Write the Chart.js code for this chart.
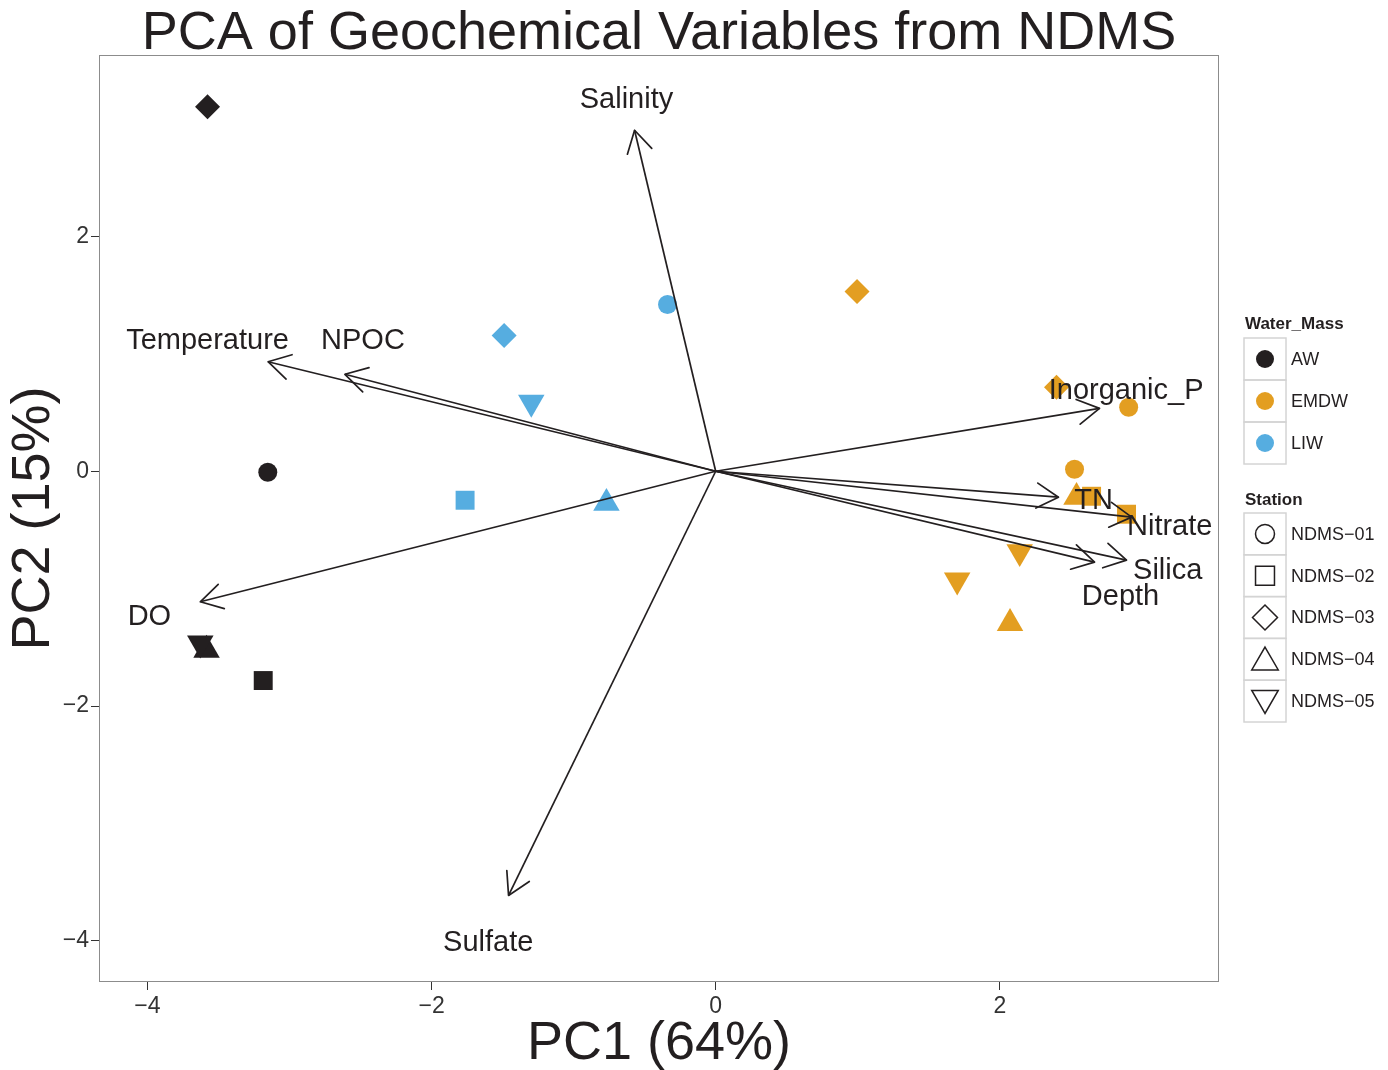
<!DOCTYPE html>
<html>
<head>
<meta charset="utf-8">
<script src="https://cdn.jsdelivr.net/npm/chart.js@4.4.1/dist/chart.umd.min.js"></script>
<style>
html,body{margin:0;padding:0;background:#fff;}
canvas{display:block;}
</style>
</head>
<body>
<canvas id="c" width="1388" height="1070"></canvas>
<script>
// ---------- data ----------
const waterMasses = ['AW', 'EMDW', 'LIW'];
const waterColors = ['#231f20', '#e39e21', '#56ade0'];
const stations = ['NDMS\u221201', 'NDMS\u221202', 'NDMS\u221203', 'NDMS\u221204', 'NDMS\u221205'];

// sample scores (PC1, PC2) and station index per water mass
const awPC1 = [-3.153, -3.185, -3.577, -3.584, -3.628];
const awPC2 = [-0.009, -1.783, 3.106, -1.523, -1.464];
const awStation = [0, 1, 2, 3, 4];

const emdwPC1 = [2.907, 2.526, 2.892, 2.646, 0.995, 2.399, 2.540, 2.072, 2.140, 1.700];
const emdwPC2 = [0.545, 0.017, -0.366, -0.213, 1.532, 0.715, -0.221, -1.295, -0.686, -0.928];
const emdwStation = [0, 0, 1, 1, 2, 2, 3, 3, 4, 4];

const liwPC1 = [-0.339, -1.764, -1.489, -0.769, -1.298];
const liwPC2 = [1.421, -0.247, 1.157, -0.272, 0.587];
const liwStation = [0, 1, 2, 3, 4];

// variable loadings (arrow tips) and label positions
const varNames = ['Salinity', 'Temperature', 'NPOC', 'DO', 'Sulfate', 'Inorganic_P', 'TN', 'Nitrate', 'Silica', 'Depth'];
const loadPC1 = [-0.571, -3.151, -2.610, -3.628, -1.458, 2.702, 2.413, 2.928, 2.892, 2.667];
const loadPC2 = [2.905, 0.933, 0.826, -1.112, -3.614, 0.536, -0.221, -0.391, -0.757, -0.774];
const labelPC1 = [-0.628, -3.577, -2.483, -3.986, -1.601, 2.889, 2.660, 3.196, 3.182, 2.850];
const labelPC2 = [3.183, 1.123, 1.123, -1.226, -4.000, 0.698, -0.238, -0.460, -0.834, -1.055];

const xTicks = [-4, -2, 0, 2];
const yTicks = [-4, -2, 0, 2];

const titleText = 'PCA of Geochemical Variables from NDMS';
const xTitle = 'PC1 (64%)';
const yTitle = 'PC2 (15%)';
const legendTitle1 = 'Water_Mass';
const legendTitle2 = 'Station';

// ---------- styles ----------
const FONT = '"Liberation Sans", Arial, Helvetica, sans-serif';
const INK = '#231f20';
const shapeStyles = [
  {style: 'circle', r: 9.5, rot: 0},
  {style: 'rect', r: 13.4, rot: 0},
  {style: 'rectRot', r: 12.5, rot: 0},
  {style: 'triangle', r: 15.3, rot: 0},
  {style: 'triangle', r: 15.3, rot: 180}
];

const groupPC1 = [awPC1, emdwPC1, liwPC1];
const groupPC2 = [awPC2, emdwPC2, liwPC2];
const groupStation = [awStation, emdwStation, liwStation];

const pointSets = waterMasses.map((wm, k) => ({
  type: 'scatter',
  label: wm,
  data: groupPC1[k].map((x, i) => ({x: x, y: groupPC2[k][i]})),
  pointStyle: groupStation[k].map(s => shapeStyles[s].style),
  pointRadius: groupStation[k].map(s => shapeStyles[s].r),
  pointRotation: groupStation[k].map(s => shapeStyles[s].rot),
  pointBackgroundColor: waterColors[k],
  pointBorderColor: waterColors[k],
  pointBorderWidth: 0,
  showLine: false,
  order: 2
}));

const arrowSets = varNames.map((n, i) => ({
  type: 'line',
  label: n,
  data: [{x: 0, y: 0}, {x: loadPC1[i], y: loadPC2[i]}],
  borderColor: INK,
  borderWidth: 1.7,
  pointRadius: 0,
  fill: false,
  tension: 0,
  order: 1
}));

function fmtTick(v) {
  return v < 0 ? '\u2212' + Math.abs(v) : String(v);
}

function drawShape(ctx, style, r, rot, x, y) {
  if (Chart.helpers && Chart.helpers.drawPoint) {
    Chart.helpers.drawPoint(ctx, {pointStyle: style, radius: r, rotation: rot, borderWidth: 1}, x, y);
    return;
  }
  let rad = rot * Math.PI / 180;
  ctx.beginPath();
  if (style === 'circle') ctx.arc(x, y, r, 0, Math.PI * 2);
  else if (style === 'rect') { const s = r * Math.SQRT1_2; ctx.rect(x - s, y - s, 2 * s, 2 * s); }
  else if (style === 'rectRot') { ctx.moveTo(x - r, y); ctx.lineTo(x, y - r); ctx.lineTo(x + r, y); ctx.lineTo(x, y + r); ctx.closePath(); }
  else {
    ctx.moveTo(x + Math.sin(rad) * r, y - Math.cos(rad) * r);
    rad += 2 * Math.PI / 3; ctx.lineTo(x + Math.sin(rad) * r, y - Math.cos(rad) * r);
    rad += 2 * Math.PI / 3; ctx.lineTo(x + Math.sin(rad) * r, y - Math.cos(rad) * r);
    ctx.closePath();
  }
  ctx.fill();
  ctx.stroke();
}

const decor = {
  id: 'decor',
  beforeDraw(chart) {
    const ctx = chart.ctx;
    ctx.save();
    ctx.fillStyle = '#fff';
    ctx.fillRect(0, 0, chart.width, chart.height);
    ctx.restore();
  },
  afterDatasetsDraw(chart) {
    const ctx = chart.ctx;
    const xs = chart.scales.x, ys = chart.scales.y;
    const x0 = xs.getPixelForValue(0), y0 = ys.getPixelForValue(0);
    ctx.save();
    ctx.strokeStyle = INK;
    ctx.lineWidth = 1.7;
    ctx.lineCap = 'round';
    ctx.lineJoin = 'round';
    const L = 25, A = Math.PI / 6;
    for (let i = 0; i < varNames.length; i++) {
      const tx = xs.getPixelForValue(loadPC1[i]);
      const ty = ys.getPixelForValue(loadPC2[i]);
      const ang = Math.atan2(ty - y0, tx - x0);
      ctx.beginPath();
      ctx.moveTo(tx - L * Math.cos(ang - A), ty - L * Math.sin(ang - A));
      ctx.lineTo(tx, ty);
      ctx.lineTo(tx - L * Math.cos(ang + A), ty - L * Math.sin(ang + A));
      ctx.stroke();
    }
    ctx.fillStyle = INK;
    ctx.font = '29px ' + FONT;
    ctx.textAlign = 'center';
    ctx.textBaseline = 'middle';
    for (let i = 0; i < varNames.length; i++) {
      ctx.fillText(varNames[i], xs.getPixelForValue(labelPC1[i]), ys.getPixelForValue(labelPC2[i]) + 2);
    }
    ctx.restore();
  },
  afterDraw(chart) {
    const ctx = chart.ctx;
    const a = chart.chartArea;
    ctx.save();
    // panel border
    ctx.strokeStyle = '#8c8c8c';
    ctx.lineWidth = 1;
    ctx.strokeRect(Math.round(a.left) + 0.5, Math.round(a.top) + 0.5, Math.round(a.right - a.left) - 1, Math.round(a.bottom - a.top) - 1);

    // legend
    const kx = 1244, kw = 42;
    ctx.textAlign = 'left';
    ctx.textBaseline = 'middle';
    ctx.fillStyle = INK;
    ctx.font = 'bold 17px ' + FONT;
    ctx.fillText(legendTitle1, 1245, 324);
    for (let i = 0; i < waterMasses.length; i++) {
      const top = 338 + i * 42;
      ctx.strokeStyle = '#d4d4d4';
      ctx.lineWidth = 1.5;
      ctx.strokeRect(kx, top, kw, 42);
      ctx.fillStyle = waterColors[i];
      ctx.beginPath();
      ctx.arc(kx + kw / 2, top + 21, 9, 0, Math.PI * 2);
      ctx.fill();
      ctx.fillStyle = INK;
      ctx.font = '18px ' + FONT;
      ctx.fillText(waterMasses[i], 1291, top + 22);
    }
    ctx.font = 'bold 17px ' + FONT;
    ctx.fillStyle = INK;
    ctx.fillText(legendTitle2, 1245, 500);
    for (let i = 0; i < stations.length; i++) {
      const top = 513 + i * 41.8;
      ctx.strokeStyle = '#d4d4d4';
      ctx.lineWidth = 1.5;
      ctx.strokeRect(kx, top, kw, 41.8);
      const st = shapeStyles[i];
      ctx.fillStyle = 'rgba(255,255,255,0)';
      ctx.strokeStyle = INK;
      ctx.lineWidth = 1.5;
      const cy = top + 20.9 + (st.style === 'triangle' ? (st.rot ? -3 : 3) : 0);
      drawShape(ctx, st.style, st.r, st.rot, kx + kw / 2, cy);
      ctx.fillStyle = INK;
      ctx.font = '18px ' + FONT;
      ctx.fillText(stations[i], 1291, top + 21.9);
    }
    ctx.restore();
  }
};

new Chart(document.getElementById('c'), {
  type: 'scatter',
  data: {datasets: [...pointSets, ...arrowSets]},
  plugins: [decor],
  options: {
    responsive: false,
    animation: false,
    devicePixelRatio: 1,
    events: [],
    layout: {padding: {left: 0, right: 169, top: 0, bottom: 0}},
    plugins: {
      legend: {display: false},
      tooltip: {enabled: false},
      title: {
        display: true,
        text: titleText,
        fullSize: false,
        color: INK,
        font: {size: 54, family: FONT, weight: 'normal', lineHeight: 0.75},
        padding: {top: 14, bottom: 0.5}
      }
    },
    scales: {
      x: {
        type: 'linear',
        min: -4.341,
        max: 3.543,
        afterBuildTicks: s => { s.ticks = xTicks.map(v => ({value: v})); },
        afterFit: s => { s.height = 88; },
        border: {display: false},
        grid: {drawOnChartArea: false, drawTicks: true, tickLength: 8, color: '#333', lineWidth: 1},
        ticks: {font: {size: 23, family: FONT}, color: '#333', padding: 3, maxRotation: 0, autoSkip: false, callback: v => fmtTick(v)},
        title: {display: true, text: xTitle, color: INK, font: {size: 54, family: FONT, lineHeight: 0.9}, padding: {top: 0, bottom: 1.7}}
      },
      y: {
        type: 'linear',
        min: -4.351,
        max: 3.546,
        afterBuildTicks: s => { s.ticks = yTicks.map(v => ({value: v})); },
        afterFit: s => { s.width = 99; },
        border: {display: false},
        grid: {drawOnChartArea: false, drawTicks: true, tickLength: 8, color: '#333', lineWidth: 1},
        ticks: {font: {size: 23, family: FONT}, color: '#333', padding: 2, autoSkip: false, callback: v => fmtTick(v)},
        title: {display: true, text: yTitle, color: INK, font: {size: 54, family: FONT, lineHeight: 1}, padding: {top: 7, bottom: 0}}
      }
    }
  }
});
</script>
</body>
</html>
